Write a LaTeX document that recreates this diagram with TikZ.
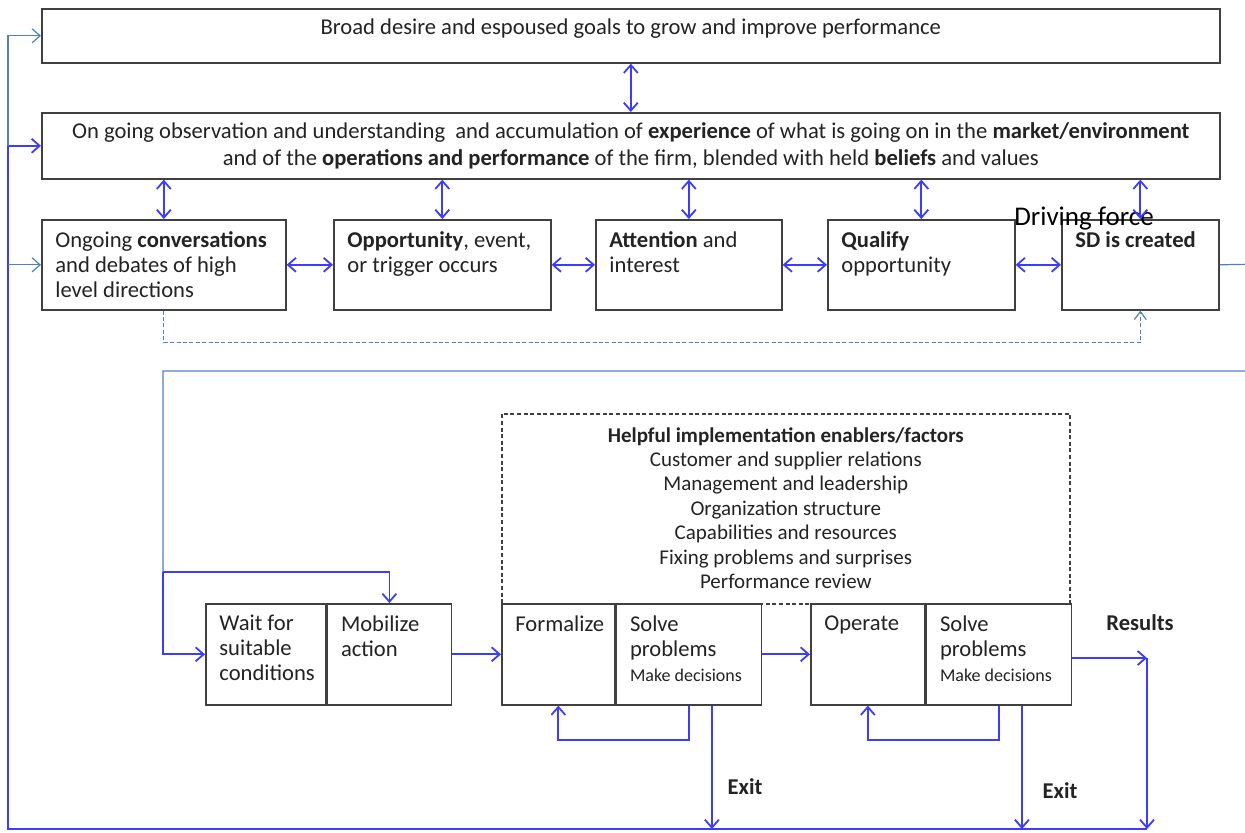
\documentclass[tikz,border=0pt]{standalone}
\usepackage{fontspec}
\setmainfont{Carlito}
\usetikzlibrary{arrows.meta, positioning, calc}
\definecolor{flowblue}{RGB}{60,60,255}
\definecolor{liteblue}{RGB}{79,129,189}
\definecolor{boxgray}{RGB}{64,64,64}
\definecolor{inkgray}{RGB}{35,35,35}

\begin{document}
\begin{tikzpicture}[
    x=0.5pt, y=-0.5pt,
    box/.style={draw=boxgray,line width=0.8pt,fill=white,anchor=north west,inner sep=0pt},
    lbl/.style={anchor=north west,align=left,inner sep=0pt,
                text=inkgray,font=\fontsize{11.3}{12.5}\selectfont},
    tl/.style={label={[lbl,xshift=7pt,yshift=-6pt]north west:{#1}}},
    arr/.style={-{Straight Barb[length=4pt,width=7pt]},line width=0.9pt,flowblue},
    dbl/.style={{Straight Barb[length=4pt,width=7pt]}-{Straight Barb[length=4pt,width=7pt]},
                line width=0.9pt,flowblue},
    lite/.style={line width=0.6pt,liteblue},
    tag/.style={font=\fontsize{11.3}{13}\selectfont\bfseries,text=inkgray},
    small/.style={font=\fontsize{9.5}{12}\selectfont}
]
  \useasboundingbox (0,0) rectangle (1245,832);

  % Goals and observation
  \node[box,minimum width=589pt,minimum height=27pt,
        label={[lbl,anchor=north,align=center,yshift=-5pt]north:{Broad desire and espoused goals to grow and improve performance}}]
        (goals) at (41,8) {};
  \node[box,minimum width=589pt,minimum height=33pt,align=center,text=inkgray,
        font=\fontsize{11.3}{13.5}\selectfont] (obs) at (41,112)
        {On going observation and understanding \ and accumulation of \textbf{experience} of what is going on in the \textbf{market/environment}\\
         and of the \textbf{operations and performance} of the firm, blended with held \textbf{beliefs} and values};

  % Row of driving stages
  \node[box,minimum width=122pt,minimum height=45pt,
        tl={Ongoing \textbf{conversations}\\and debates of high\\level directions}] (conv) at (41,219) {};
  \node[box,minimum width=108.5pt,minimum height=45pt,
        tl={\textbf{Opportunity}, event,\\or trigger occurs}] (opp) at (333,219) {};
  \node[box,minimum width=93pt,minimum height=45pt,
        tl={\textbf{Attention} and\\interest}] (attn) at (595,219) {};
  \node[box,minimum width=93.5pt,minimum height=45pt,
        tl={\textbf{Qualify}\\opportunity}] (qual) at (827,219) {};
  \node[box,minimum width=78.5pt,minimum height=45pt,
        tl={\textbf{SD is created}}] (sd) at (1061,219) {};
  \node[font=\fontsize{13.5}{15}\selectfont] (drive) at (1084,219) {Driving force};

  \draw[dbl] (goals.south) -- (obs.north);
  \foreach \s in {conv,opp,attn,qual,sd}
    \draw[dbl] (obs.south -| \s.north) -- (\s.north);
  \draw[dbl] (conv.east) -- (opp.west);
  \draw[dbl] (opp.east) -- (attn.west);
  \draw[dbl] (attn.east) -- (qual.west);
  \draw[dbl] (qual.east) -- (sd.west);
  \draw[lite,dashed,dash pattern=on 2pt off 1.2pt,-{Straight Barb[length=4pt,width=6pt]}]
    (conv.south) -- ++(0,32) -| (sd.south);

  % Enablers
  \node[box,draw=boxgray,dashed,dash pattern=on 2pt off 1.3pt,fill=none,
        minimum width=284pt,minimum height=95pt,
        label={[lbl,anchor=north,align=center,yshift=-7pt,
                font=\fontsize{10.5}{12.2}\selectfont]north:{\textbf{Helpful implementation enablers/factors}\\
                Customer and supplier relations\\Management and leadership\\Organization structure\\
                Capabilities and resources\\Fixing problems and surprises\\Performance review}}]
        (enab) at (501,413) {};

  % Implementation stages
  \node[box,minimum width=60pt,minimum height=50.5pt,
        tl={Wait for\\suitable\\conditions}] (wait) at (205,603) {};
  \node[box,minimum width=62pt,minimum height=50.5pt,right=0pt of wait,
        tl={Mobilize\\action}] (mob) {};
  \node[box,minimum width=56.5pt,minimum height=50.5pt,
        tl={Formalize}] (form) at (501,603) {};
  \node[box,minimum width=72.5pt,minimum height=50.5pt,right=0pt of form,
        tl={Solve\\problems\\{\small Make decisions}}] (solve1) {};
  \node[box,minimum width=57pt,minimum height=50.5pt,
        tl={Operate}] (oper) at (810,603) {};
  \node[box,minimum width=72.5pt,minimum height=50.5pt,right=0pt of oper,
        tl={Solve\\problems\\{\small Make decisions}}] (solve2) {};

  \node[tag] (exit1) at (745,787) {Exit};
  \node[tag] (exit2) at (1060,791) {Exit};
  \node[tag] (results) at (1140,623) {Results};

  \coordinate (split) at (163,572);
  \coordinate (rail) at (8,829);
  \coordinate (res) at (1147,658);

  % Loop from SD back to the start of implementation
  \draw[lite] (sd.east) -- (1262,264) -- (1262,371) -- (163,371) -- (split);
  \draw[arr] (split) |- (wait.west);
  \draw[arr] (split) -| (mob.north);
  \draw[arr] (mob.east) -- (form.west);
  \draw[arr] (solve1.east) -- (oper.west);
  \draw[arr] (solve1.south) -- ++(0,34) -| (form.south);
  \draw[arr] (solve2.south) -- ++(0,34) -| (oper.south);
  \draw[arr] ([xshift=11.5pt]solve1.south) -- ([xshift=11.5pt]solve1.south |- rail);
  \draw[arr] ([xshift=11.5pt]solve2.south) -- ([xshift=11.5pt]solve2.south |- rail);
  \draw[arr] (solve2.east |- res) -- (res);
  \draw[arr] (res) -- (res |- rail);

  % Feedback rail on the left
  \draw[arr] (rail -| res) -- (rail) |- (obs.west);
  \draw[lite,-{Straight Barb[length=4pt,width=7pt]}] (rail |- obs.west) |- (goals.west);
  \draw[lite,-{Straight Barb[length=4pt,width=7pt]}] (rail |- conv.west) -- (conv.west);
\end{tikzpicture}
\end{document}
